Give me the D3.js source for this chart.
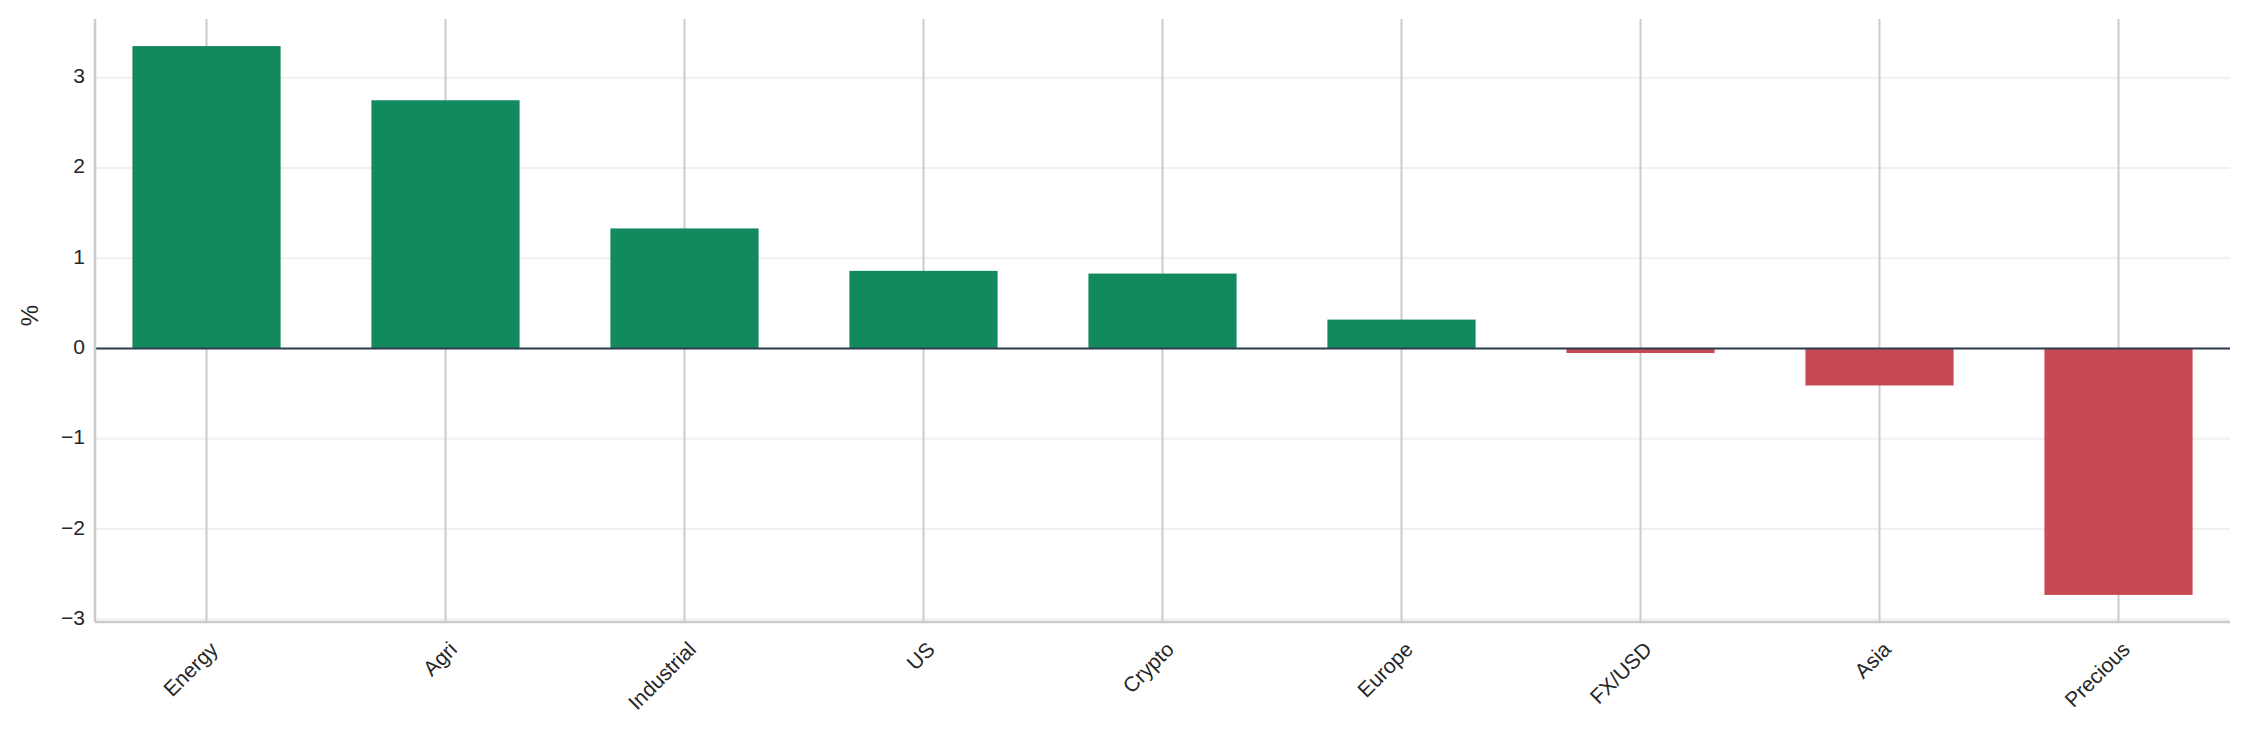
<!DOCTYPE html>
<html>
<head>
<meta charset="utf-8">
<script src="https://cdn.jsdelivr.net/npm/d3@7"></script>
<style>
  body { margin: 0; background: #fff; }
  text { font-family: "Liberation Sans", Arial, sans-serif; fill: #262626; }
</style>
</head>
<body>
<div id="chart"></div>
<script>
// 数据
const categories = ['Energy', 'Agri', 'Industrial', 'US', 'Crypto', 'Europe', 'FX/USD', 'Asia', 'Precious'];
const values = [3.35, 2.75, 1.33, 0.86, 0.83, 0.32, -0.05, -0.41, -2.73];
const yTicks = [-3, -2, -1, 0, 1, 2, 3];

const W = 2249, H = 745;
const mLeft = 95, mRight = 2230, mTop = 19, mBottom = 622;   // 绘图区边界

const svg = d3.select('#chart').append('svg')
  .attr('width', W).attr('height', H);

// 比例尺
const x = d3.scaleBand().domain(categories).range([mLeft - 8, mRight + 8]).paddingInner(0.38).paddingOuter(0.19);
const y = d3.scaleLinear().domain([-3.03, 3.65]).range([mBottom, mTop]);

// 横向网格
svg.append('g').selectAll('line').data(yTicks).enter().append('line')
  .attr('x1', mLeft).attr('x2', mRight)
  .attr('y1', d => y(d)).attr('y2', d => y(d))
  .attr('stroke', '#f0f0f0').attr('stroke-width', 2);

// 纵向网格
svg.append('g').selectAll('line').data(categories).enter().append('line')
  .attr('x1', d => x(d) + x.bandwidth() / 2).attr('x2', d => x(d) + x.bandwidth() / 2)
  .attr('y1', mTop).attr('y2', mBottom)
  .attr('stroke', '#cccccc').attr('stroke-width', 2);

// 柱子
svg.append('g').selectAll('rect').data(values).enter().append('rect')
  .attr('x', (d, i) => x(categories[i]))
  .attr('width', x.bandwidth())
  .attr('y', d => y(Math.max(0, d)))
  .attr('height', d => Math.abs(y(d) - y(0)))
  .attr('fill', d => d >= 0 ? '#138a5e' : '#c64953');

// 零线
svg.append('line')
  .attr('x1', mLeft).attr('x2', mRight)
  .attr('y1', y(0)).attr('y2', y(0))
  .attr('stroke', '#2c3e50').attr('stroke-width', 2);

// 坐标轴边框
svg.append('line').attr('x1', mLeft).attr('x2', mLeft).attr('y1', mTop).attr('y2', mBottom)
  .attr('stroke', '#cccccc').attr('stroke-width', 2.5);
svg.append('line').attr('x1', mLeft).attr('x2', mRight).attr('y1', mBottom).attr('y2', mBottom)
  .attr('stroke', '#cccccc').attr('stroke-width', 2.5);

// y 刻度
svg.append('g').selectAll('text').data(yTicks).enter().append('text')
  .attr('x', mLeft - 10).attr('y', d => y(d))
  .attr('text-anchor', 'end').attr('dominant-baseline', 'middle')
  .style('font-size', '21px')
  .text(d => d < 0 ? '\u2212' + Math.abs(d) : d);

// x 标签
svg.append('g').selectAll('text').data(categories).enter().append('text')
  .attr('transform', d => `translate(${x(d) + x.bandwidth() / 2 + 2},${mBottom + 18}) rotate(-45)`)
  .attr('text-anchor', 'end').attr('dominant-baseline', 'hanging')
  .style('font-size', '21px')
  .text(d => d);

// y 轴标题
svg.append('text')
  .attr('transform', `translate(32,${(mTop + mBottom) / 2 - 5}) rotate(-90)`)
  .attr('text-anchor', 'middle').attr('dominant-baseline', 'middle')
  .style('font-size', '24px')
  .text('%');
</script>
</body>
</html>
